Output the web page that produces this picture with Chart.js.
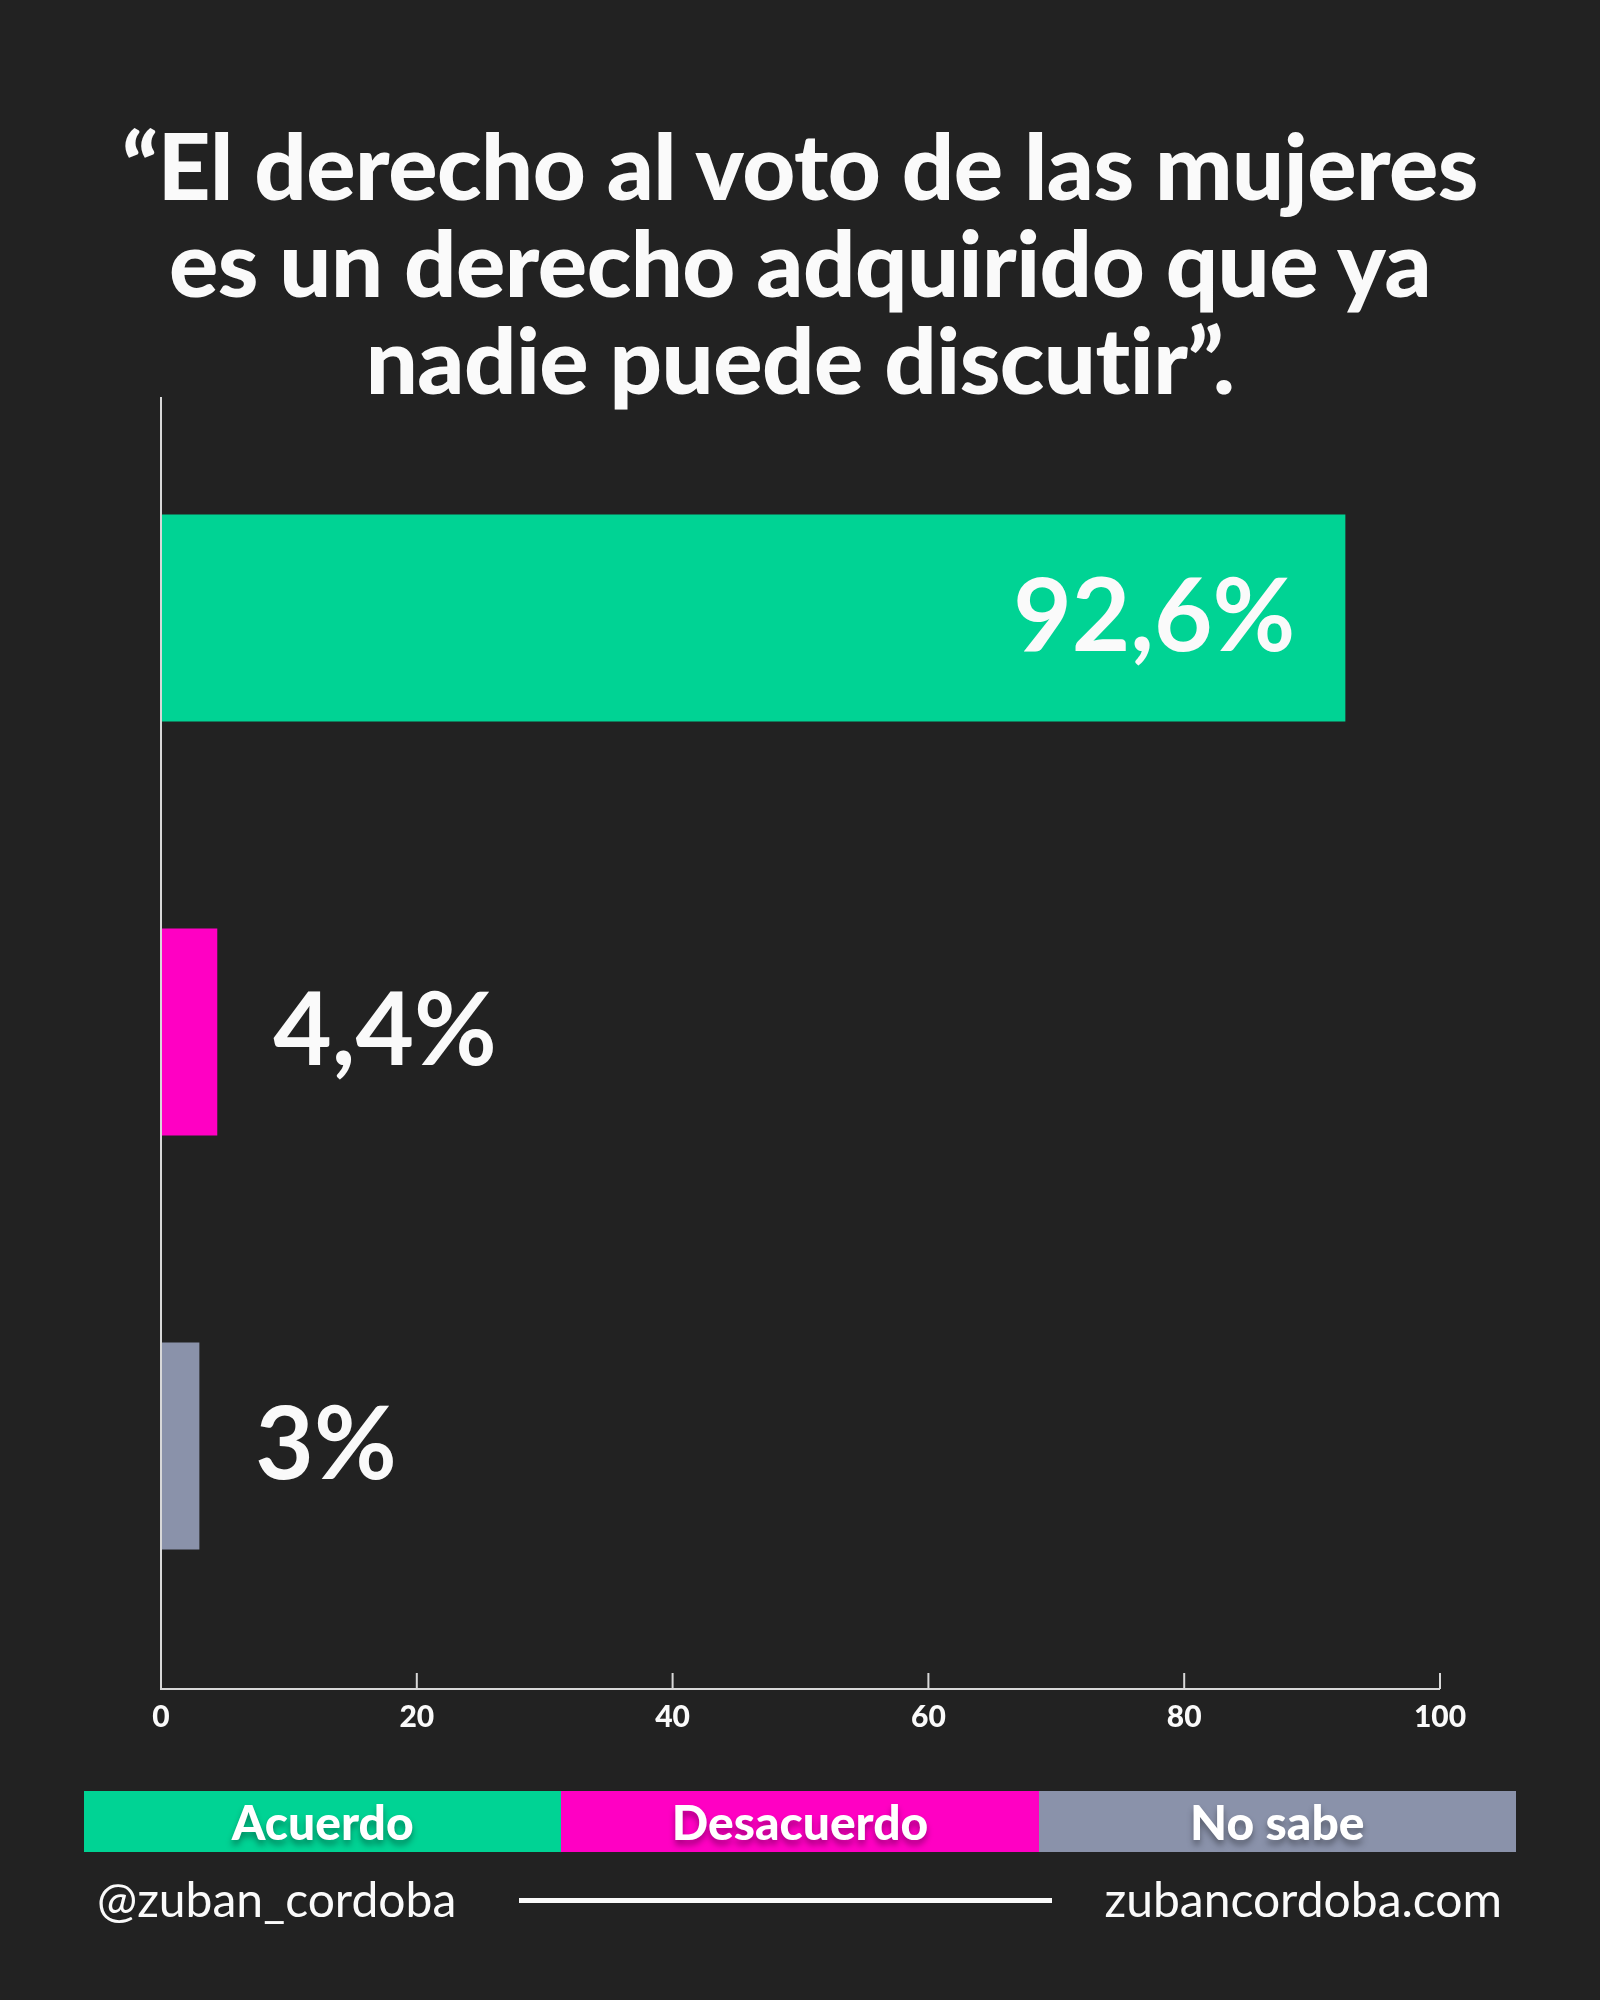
<!DOCTYPE html>
<html>
<head>
<meta charset="utf-8">
<script src="https://cdn.jsdelivr.net/npm/chart.js@4"></script>
<style>
  html, body { margin: 0; padding: 0; background: #222222; }
  body { width: 1600px; height: 2000px; position: relative; overflow: hidden; font-family: Lato, "Open Sans", sans-serif; }
  #wrap { position: absolute; left: 0; top: 0; width: 1600px; height: 2000px; }
  .title {
    position: absolute; left: 0; top: 116px; width: 1600px;
    text-align: center; color: #fafafa; font-weight: 900;
    font-size: 92px; line-height: 97px; letter-spacing: -0.5px;
  }
  .legend {
    position: absolute; left: 84px; top: 1791px; width: 1432px; height: 61px;
    display: flex;
  }
  .legend div {
    flex: 1; color: #fff; font-weight: 900; font-size: 48px; line-height: 61px;
    text-align: center; text-shadow: 0 5px 6px rgba(0,0,0,0.35);
  }
  .footer { position: absolute; top: 1871px; color: #fafafa; font-size: 48px; line-height: 56px; }
  .rule { position: absolute; left: 519px; top: 1898px; width: 533px; height: 5px; background: #fafafa; }
</style>
</head>
<body>
<div id="wrap"><canvas id="barChart"></canvas></div>
<div class="title">“El derecho al voto de las mujeres<br>es un derecho adquirido que ya<br>nadie puede discutir”.</div>
<div class="legend" id="legend"></div>
<div class="footer" style="left:97px">@zuban_cordoba</div>
<div class="rule"></div>
<div class="footer" style="right:98px">zubancordoba.com</div>
<script>
const categories = ['Acuerdo', 'Desacuerdo', 'No sabe'];
const values = [92.6, 4.4, 3];
const valueLabels = ['92,6%', '4,4%', '3%'];
const colors = ['#00d394', '#ff00c3', '#8a92aa'];
const xTicks = [0, 20, 40, 60, 80, 100];

// legend strip below the chart
const legend = document.getElementById('legend');
categories.forEach((c, i) => {
  const d = document.createElement('div');
  d.style.background = colors[i];
  d.textContent = c;
  legend.appendChild(d);
});

// axes with ticks pointing up, plus value labels
const decor = {
  id: 'decor',
  afterDatasetsDraw(chart) {
    const { ctx, chartArea } = chart;
    const x = chart.scales.x;
    const axisY = chartArea.bottom + 36;
    ctx.save();
    ctx.strokeStyle = '#d8d8d8';
    ctx.lineWidth = 2;
    ctx.beginPath();
    ctx.moveTo(chartArea.left, chartArea.top - 14);
    ctx.lineTo(chartArea.left, axisY);
    ctx.lineTo(x.getPixelForValue(100), axisY);
    xTicks.forEach(t => {
      const px = x.getPixelForValue(t);
      ctx.moveTo(px, axisY);
      ctx.lineTo(px, axisY - 16);
    });
    ctx.stroke();

    ctx.fillStyle = '#fafafa';
    ctx.font = '900 30px Lato';
    ctx.textAlign = 'center';
    ctx.textBaseline = 'middle';
    xTicks.forEach(t => ctx.fillText(String(t), x.getPixelForValue(t), axisY + 28));

    ctx.font = '700 101px Lato';
    const meta = chart.getDatasetMeta(0);
    meta.data.forEach((bar, i) => {
      if (values[i] > 50) {
        ctx.textAlign = 'right';
        ctx.fillText(valueLabels[i], bar.x - 50, bar.y);
      } else {
        ctx.textAlign = 'left';
        ctx.fillText(valueLabels[i], bar.x + 56, bar.y);
      }
    });
    ctx.restore();
  }
};

new Chart(document.getElementById('barChart'), {
  type: 'bar',
  data: {
    labels: categories,
    datasets: [{
      data: values,
      backgroundColor: colors,
      borderWidth: 0,
      categoryPercentage: 1,
      barPercentage: 0.5
    }]
  },
  options: {
    indexAxis: 'y',
    responsive: true,
    maintainAspectRatio: false,
    animation: false,
    layout: { padding: { left: 161, right: 160, top: 411, bottom: 347 } },
    plugins: { legend: { display: false }, tooltip: { enabled: false } },
    scales: {
      x: { display: false, min: 0, max: 100 },
      y: { display: false }
    }
  },
  plugins: [decor]
});
</script>
</body>
</html>
